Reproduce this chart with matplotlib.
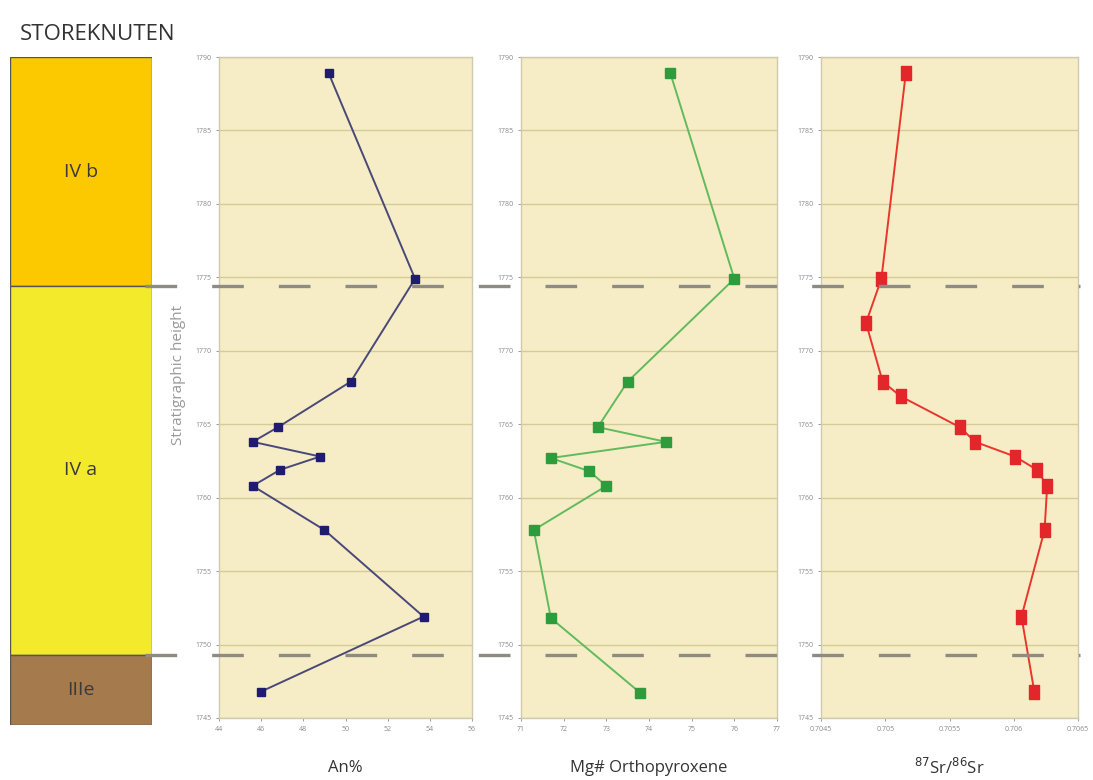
import matplotlib
matplotlib.use("Agg")
import matplotlib.pyplot as plt
from matplotlib.path import Path
from matplotlib.lines import Line2D

plt.rcParams['font.family'] = ['Open Sans', 'DejaVu Sans']

# stratigraphic heights of the samples (m)
height_an = [1788.9, 1774.9, 1767.9, 1764.8, 1763.8, 1762.8, 1761.9, 1760.8, 1757.8, 1751.9, 1746.8]
an_pct = [49.2, 53.3, 50.25, 46.8, 45.6, 48.8, 46.9, 45.6, 49.0, 53.7, 46.0]

height_mg = [1788.9, 1774.9, 1767.9, 1764.8, 1763.8, 1762.7, 1761.8, 1760.8, 1757.8, 1751.8, 1746.7]
mg_opx = [74.5, 76.0, 73.5, 72.8, 74.4, 71.7, 72.6, 73.0, 71.3, 71.7, 73.8]

height_sr = [1788.9, 1774.9, 1771.9, 1767.9, 1766.9, 1764.8, 1763.8, 1762.8, 1761.9, 1760.8, 1757.8, 1751.9, 1746.8]
sr_ratio = [0.70516, 0.70497, 0.70485, 0.70498, 0.70512, 0.70558, 0.70570, 0.70601,
            0.70618, 0.70626, 0.70624, 0.70606, 0.70616]

# units column
unit_names = ['IV b', 'IV a', 'IIIe']
unit_tops = [1790, 1774.4, 1749.3]
unit_bases = [1774.4, 1749.3, 1744.5]
unit_colors = ['#FCC900', '#F3EA2C', '#A57A4C']
boundaries = [1774.4, 1749.3]

y_ticks = list(range(1745, 1791, 5))
ymin, ymax = 1745, 1790

fig = plt.figure(figsize=(10.93, 7.8), dpi=100)
W, H = 1093, 780


def px_axes(x0, y0, x1, y1):
    return fig.add_axes([x0 / W, 1 - y1 / H, (x1 - x0) / W, (y1 - y0) / H])


# left column of units
axu = px_axes(10, 57, 152, 725)
for name, top, base, col in zip(unit_names, unit_tops, unit_bases, unit_colors):
    axu.bar(0.5, top - base, bottom=base, width=1, color=col, edgecolor='#555555', linewidth=1)
    axu.text(0.5, (top + base) / 2, name, ha='center', va='center', fontsize=14,
             color='#3a3a3a')
axu.set_xlim(0, 1)
axu.set_ylim(1744.5, 1790)
axu.axis('off')

bg = '#F6EDC6'
grid_col = '#D5CB98'
panels = [
    ((219, 472), an_pct, height_an, (44, 56), [44, 46, 48, 50, 52, 54, 56], 'An%',
     '#4A4878', '#1F1B6E', 's', 6),
    ((521, 777), mg_opx, height_mg, (71, 77), [71, 72, 73, 74, 75, 76, 77], 'Mg# Orthopyroxene',
     '#62BA5E', '#2E9B3C', 's', 6.5),
    ((821, 1078), sr_ratio, height_sr, (0.7045, 0.7065), [0.7045, 0.705, 0.7055, 0.706, 0.7065],
     r'$^{87}$Sr/$^{86}$Sr', '#E8362C', '#E3262A', 'rect', 10.5),
]

rect_marker = Path([(-0.33, -0.5), (0.33, -0.5), (0.33, 0.5), (-0.33, 0.5), (-0.33, -0.5)],
                   [Path.MOVETO, Path.LINETO, Path.LINETO, Path.LINETO, Path.CLOSEPOLY])

for (x0, x1), xs, ys, xlim, xticks, label, lc, mc, mk, ms in panels:
    ax = px_axes(x0, 57, x1, 718)
    ax.set_facecolor(bg)
    ax.set_xlim(*xlim)
    ax.set_ylim(ymin, ymax)
    ax.set_yticks(y_ticks)
    ax.set_xticks(xticks)
    ax.set_xticklabels([f'{t:g}' for t in xticks])
    ax.grid(axis='y', color=grid_col, linewidth=1)
    ax.set_axisbelow(True)
    for s in ax.spines.values():
        s.set_color('#CFC9AE')
        s.set_linewidth(1)
    ax.tick_params(labelsize=5, colors='#8a8a8a', length=2, width=0.6)
    marker = rect_marker if mk == 'rect' else mk
    ax.plot(xs, ys, color=lc, linewidth=1.4, marker=marker, markersize=ms,
            markerfacecolor=mc, markeredgecolor=mc, zorder=3)
    fig.text(((x0 + x1) / 2) / W, 1 - 768 / H, label, ha='center', va='center',
             fontsize=12, color='#333333')

# dashed unit boundaries across the panels
for yb in boundaries:
    ypx = 57 + (ymax - yb) / (ymax - ymin) * (718 - 57)
    fig.add_artist(Line2D([145 / W, 1080 / W], [1 - ypx / H, 1 - ypx / H],
                          transform=fig.transFigure, color='#8E8C82', linewidth=2.4,
                          linestyle=(0, (9.5, 10.5)), zorder=5))

fig.text(178 / W, 1 - 375 / H, 'Stratigraphic height', rotation=90, ha='center',
         va='center', fontsize=11, color='#999999')
fig.text(20 / W, 1 - 35 / H, 'STOREKNUTEN', ha='left', va='center', fontsize=16,
         color='#333333')

fig.savefig('out.png', dpi=100)
